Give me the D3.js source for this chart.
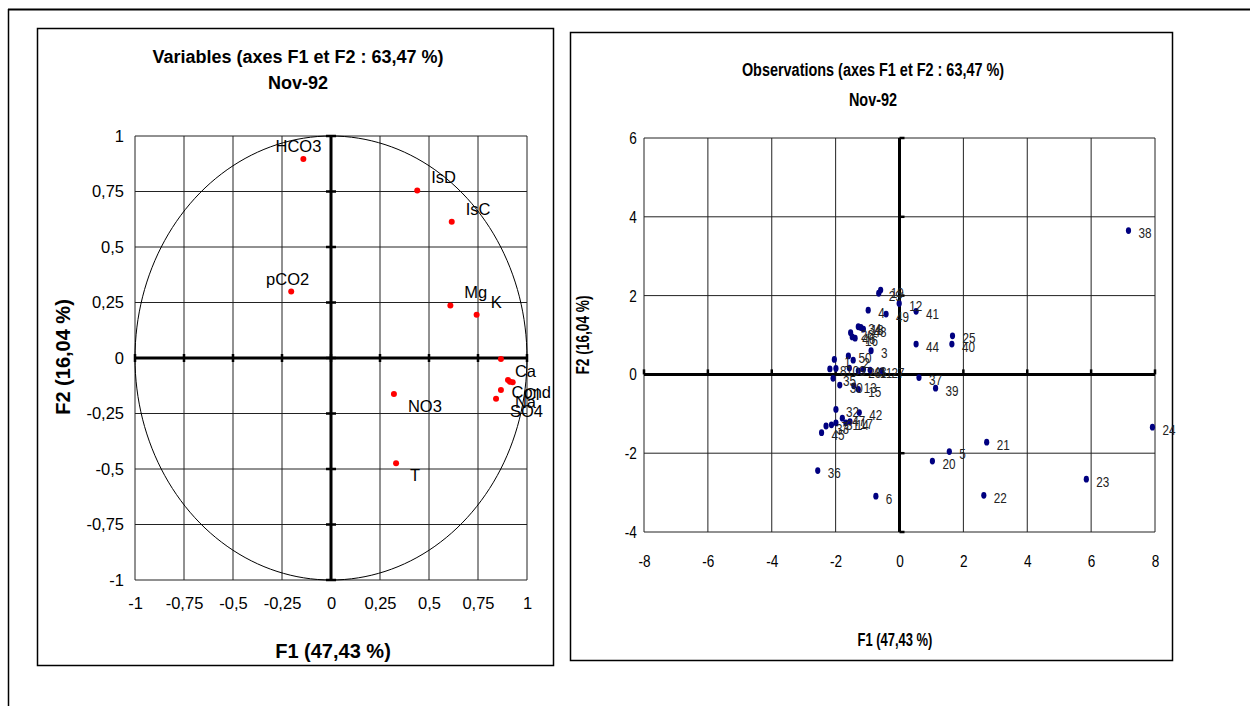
<!DOCTYPE html>
<html><head><meta charset="utf-8">
<script src="https://cdn.jsdelivr.net/npm/d3@7"></script>
<style>
body{margin:0;background:#fff;}
svg{display:block}
text{font-family:"Liberation Sans",Arial,sans-serif}
</style></head><body>
<svg id="chart" width="1250" height="706"></svg>
<script>
// ---------- data ----------
const varTicks = [-1, -0.75, -0.5, -0.25, 0, 0.25, 0.5, 0.75, 1];
const varNames = ["HCO3","IsD","IsC","pCO2","Mg","K","Ca","Cond","Cl","","Na","SO4","NO3","T"];
const varF1 = [-0.141, 0.440, 0.616, -0.203, 0.609, 0.743, 0.867, 0.903, 0.913, 0.927, 0.867, 0.842, 0.321, 0.332];
const varF2 = [0.896, 0.755, 0.614, 0.299, 0.237, 0.195, -0.004, -0.099, -0.107, -0.109, -0.144, -0.183, -0.162, -0.474];

const obsXTicks = [-8, -6, -4, -2, 0, 2, 4, 6, 8];
const obsYTicks = [-4, -2, 0, 2, 4, 6];
const obsLabels = ["38","24","23","22","21","20","5","6","36","39","37","44","40","25","41","12","49","4","29","19","27","3","34","48","18","46","16","26","50","1","2","8","43","28","9","10","11","35","30","13","15","32","42","7","45","31","14","47","17","33"];
const obsF1 = [7.17,7.92,5.85,2.64,2.73,1.03,1.56,-0.74,-2.56,1.13,0.61,0.52,1.64,1.66,0.52,-0.01,-0.42,-0.98,-0.65,-0.59,-0.56,-0.89,-1.29,-1.13,-1.21,-1.48,-1.39,-1.53,-1.60,-2.04,-1.45,-2.18,-1.13,-1.29,-1.57,-1.99,-0.92,-2.08,-1.87,-1.43,-1.29,-1.99,-1.26,-2.13,-2.44,-1.99,-1.68,-1.79,-1.55,-2.30];
const obsF2 = [3.65,-1.34,-2.66,-3.07,-1.72,-2.20,-1.96,-3.09,-2.44,-0.35,-0.08,0.77,0.77,0.98,1.60,1.80,1.53,1.63,2.06,2.14,0.09,0.60,1.21,1.15,1.19,0.95,0.92,1.06,0.47,0.38,0.36,0.14,0.13,0.09,0.16,0.15,0.11,-0.10,-0.27,-0.29,-0.38,-0.89,-0.97,-1.28,-1.48,-1.23,-1.23,-1.11,-1.20,-1.31];

// ---------- drawing ----------
const svg = d3.select("#chart");
const fmt = d => String(d).replace('.', ',');
// condensed text (no narrow font installed): scale horizontally around the anchor point
function narrow(sel, s) {
  sel.each(function(){
    const t = d3.select(this);
    const x = +t.attr("x") || 0, y = +t.attr("y") || 0;
    t.attr("x", 0).attr("y", 0).attr("transform", `translate(${x},${y}) scale(${s},1)`);
  });
}

// page frames
svg.append("line").attr("x1",8).attr("y1",9.5).attr("x2",1250).attr("y2",9.5).attr("stroke","#000").attr("stroke-width",2);
svg.append("line").attr("x1",8.5).attr("y1",9).attr("x2",8.5).attr("y2",706).attr("stroke","#000").attr("stroke-width",1.5);
svg.append("rect").attr("x",37.5).attr("y",28.5).attr("width",516).attr("height",637).attr("fill","none").attr("stroke","#000").attr("stroke-width",1.5);
svg.append("rect").attr("x",570.5).attr("y",32.5).attr("width",602).attr("height",628).attr("fill","none").attr("stroke","#000").attr("stroke-width",1.5);

// ===== Left chart: variables =====
const xV = d3.scaleLinear().domain([-1,1]).range([135,527]);
const yV = d3.scaleLinear().domain([-1,1]).range([580,136]);
const gL = svg.append("g");
varTicks.forEach(t => {
  gL.append("line").attr("x1",xV(t)).attr("x2",xV(t)).attr("y1",yV(-1)).attr("y2",yV(1)).attr("stroke","#222").attr("stroke-width",1);
  gL.append("line").attr("y1",yV(t)).attr("y2",yV(t)).attr("x1",xV(-1)).attr("x2",xV(1)).attr("stroke","#222").attr("stroke-width",1);
});
gL.append("line").attr("x1",xV(0)).attr("x2",xV(0)).attr("y1",yV(-1)).attr("y2",yV(1)).attr("stroke","#000").attr("stroke-width",3);
gL.append("line").attr("y1",yV(0)).attr("y2",yV(0)).attr("x1",xV(-1)).attr("x2",xV(1)).attr("stroke","#000").attr("stroke-width",3);
varTicks.forEach(t => {
  gL.append("line").attr("x1",xV(0)-5).attr("x2",xV(0)+5).attr("y1",yV(t)).attr("y2",yV(t)).attr("stroke","#000").attr("stroke-width",2.5);
  gL.append("line").attr("x1",xV(t)).attr("x2",xV(t)).attr("y1",yV(0)-4).attr("y2",yV(0)+4).attr("stroke","#000").attr("stroke-width",2.5);
});
const circ = d3.range(0, 361, 2).map(a => [Math.cos(a*Math.PI/180), Math.sin(a*Math.PI/180)]);
gL.append("path").attr("d", d3.line().x(d=>xV(d[0])).y(d=>yV(d[1]))(circ)).attr("fill","none").attr("stroke","#000").attr("stroke-width",1);

const axL_b = gL.append("g").attr("transform",`translate(0,${yV(-1)})`)
  .call(d3.axisBottom(xV).tickValues(varTicks).tickFormat(fmt).tickSize(0).tickPadding(17));
const axL_l = gL.append("g").attr("transform",`translate(${xV(-1)},0)`)
  .call(d3.axisLeft(yV).tickValues(varTicks).tickFormat(fmt).tickSize(0).tickPadding(11));
[axL_b, axL_l].forEach(a => { a.select(".domain").remove(); a.selectAll("text").attr("font-size",16.5).attr("fill","#000").attr("font-family","Liberation Sans, Arial, sans-serif"); });

const vdata = varNames.map((n,i)=>({n, x:varF1[i], y:varF2[i]}));
gL.selectAll("circle.v").data(vdata).join("circle").attr("class","v")
  .attr("cx",d=>xV(d.x)).attr("cy",d=>yV(d.y)).attr("r",3).attr("fill","#ff0000");
const RIGHT_LIMIT = 551; // labels are kept inside the chart box
gL.selectAll("text.v").data(vdata).join("text").attr("class","v")
  .attr("y",d=> d.y<0 ? yV(d.y)+18 : yV(d.y)-7)
  .attr("text-anchor",d=> d.x<0 ? "end" : "start")
  .attr("font-size",16.5).attr("fill","#000").text(d=>d.n)
  .each(function(d){
    if (d.x < 0) { d3.select(this).attr("x", xV(d.x)+18); return; }
    const w = this.getComputedTextLength();
    let x = xV(d.x)+14;
    if (x + w > RIGHT_LIMIT) x = RIGHT_LIMIT - w;
    d3.select(this).attr("x", x);
  });

svg.append("text").attr("x",298).attr("y",63).attr("text-anchor","middle").attr("font-size",18).attr("font-weight","bold").text("Variables (axes F1 et F2 : 63,47 %)");
svg.append("text").attr("x",298).attr("y",89).attr("text-anchor","middle").attr("font-size",18).attr("font-weight","bold").text("Nov-92");
svg.append("text").attr("x",333).attr("y",658).attr("text-anchor","middle").attr("font-size",20).attr("font-weight","bold").text("F1 (47,43 %)");
svg.append("text").attr("transform","translate(70,357) rotate(-90)").attr("text-anchor","middle").attr("font-size",20).attr("font-weight","bold").text("F2 (16,04 %)");

// ===== Right chart: observations =====
const xO = d3.scaleLinear().domain([-8,8]).range([644,1155]);
const yO = d3.scaleLinear().domain([-4,6]).range([532,138]);
const gR = svg.append("g");
obsXTicks.forEach(t => gR.append("line").attr("x1",xO(t)).attr("x2",xO(t)).attr("y1",yO(-4)).attr("y2",yO(6)).attr("stroke","#222").attr("stroke-width",1));
obsYTicks.forEach(t => gR.append("line").attr("y1",yO(t)).attr("y2",yO(t)).attr("x1",xO(-8)).attr("x2",xO(8)).attr("stroke","#222").attr("stroke-width",1));
gR.append("line").attr("x1",xO(0)).attr("x2",xO(0)).attr("y1",yO(-4)).attr("y2",yO(6)).attr("stroke","#000").attr("stroke-width",3);
gR.append("line").attr("y1",yO(0)).attr("y2",yO(0)).attr("x1",xO(-8)).attr("x2",xO(8)).attr("stroke","#000").attr("stroke-width",3);
obsXTicks.forEach(t => gR.append("line").attr("x1",xO(t)).attr("x2",xO(t)).attr("y1",yO(0)-5).attr("y2",yO(0)).attr("stroke","#000").attr("stroke-width",2.5));
obsYTicks.forEach(t => gR.append("line").attr("x1",xO(0)).attr("x2",xO(0)+5).attr("y1",yO(t)).attr("y2",yO(t)).attr("stroke","#000").attr("stroke-width",2.5));

const axR_b = gR.append("g").attr("transform",`translate(0,${yO(-4)})`)
  .call(d3.axisBottom(xO).tickValues(obsXTicks).tickFormat(fmt).tickSize(0).tickPadding(23));
const axR_l = gR.append("g").attr("transform",`translate(${xO(-8)},0)`)
  .call(d3.axisLeft(yO).tickValues(obsYTicks).tickFormat(fmt).tickSize(0).tickPadding(9));
[axR_b, axR_l].forEach(a => { a.select(".domain").remove(); a.selectAll("text").attr("font-size",17).attr("fill","#000").attr("transform","scale(0.8,1)"); });

const odata = obsLabels.map((n,i)=>({n, x:obsF1[i], y:obsF2[i]}));
gR.selectAll("ellipse.o").data(odata).join("ellipse").attr("class","o")
  .attr("cx",d=>xO(d.x)).attr("cy",d=>yO(d.y)).attr("rx",2.6).attr("ry",3.4).attr("fill","#000080");
gR.selectAll("text.o").data(odata).join("text").attr("class","o")
  .attr("x",d=>xO(d.x)+10).attr("y",d=>yO(d.y)+7.5)
  .attr("font-size",15).attr("fill","#222").text(d=>d.n)
  .call(narrow, 0.78);

svg.append("text").attr("x",873).attr("y",76).attr("text-anchor","middle").attr("font-size",19).attr("font-weight","bold").text("Observations (axes F1 et F2 : 63,47 %)").call(narrow, 0.76);
svg.append("text").attr("x",873).attr("y",106).attr("text-anchor","middle").attr("font-size",19).attr("font-weight","bold").text("Nov-92").call(narrow, 0.76);
svg.append("text").attr("x",895).attr("y",646).attr("text-anchor","middle").attr("font-size",18).attr("font-weight","bold").text("F1 (47,43 %)").call(narrow, 0.72);
svg.append("text").attr("transform","translate(589,335) rotate(-90) scale(0.76,1)").attr("text-anchor","middle").attr("font-size",18).attr("font-weight","bold").text("F2 (16,04 %)");
</script>
</body></html>
